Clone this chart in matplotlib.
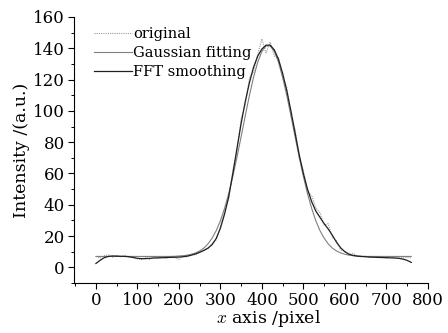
import numpy as np
import matplotlib
matplotlib.use("Agg")
from matplotlib import pyplot as plt
from matplotlib.ticker import MultipleLocator

plt.rcParams['font.family'] = ['DejaVu Serif']
plt.rcParams['mathtext.fontset'] = 'cm'

# pixel positions (every 10 px)
pixel = list(range(0, 770, 10))

original = [7, 6, 7.5, 8, 6.5, 7.5, 6.8, 7.8, 6.5, 7, 5.5, 5, 6.5, 5.2, 6.4, 5.8,
            6.6, 5.9, 7, 6.2, 5.2, 7.4, 6.6, 8.5, 8, 10, 11, 12, 15.5, 17.5, 26, 36,
            44, 62, 74, 95, 104, 121, 125, 136, 146, 137, 144, 135, 134, 121, 115,
            97, 88, 70, 62, 48, 46, 38, 35, 27, 28, 19, 17, 11, 10.5, 8, 9, 7, 6.8,
            7.2, 6.3, 7, 6.2, 6.8, 6, 6.6, 6.2, 6.8, 6, 6.5, 6]

gaussian = [7, 7, 7, 7, 7, 7, 7, 7, 7, 7, 7, 7, 7, 7, 7, 7,
            7, 7, 7, 7.1, 7.3, 7.5, 7.8, 8.4, 9.2, 10.5, 12.3, 15, 18.7, 23.5, 29.8, 37.7,
            47.1, 58.1, 70.4, 83.5, 96.9, 109.9, 121.5, 131.1, 138, 141.5, 141.5, 138, 131.1, 121.5, 109.9,
            96.9, 83.5, 70.4, 58.1, 47.1, 37.7, 29.8, 23.5, 18.7, 15, 12.3, 10.5, 9.2, 8.4, 7.8, 7.5, 7.3, 7.1,
            7, 7, 7, 7, 7, 7, 7, 7, 7, 7, 7, 7]

fft_smooth = [2.5, 4.5, 6.2, 7, 7.3, 7.2, 7.1, 7, 6.8, 6.3, 5.8, 5.6, 5.6, 5.8, 6, 6.1,
              6.2, 6.3, 6.4, 6.5, 6.6, 6.8, 7.2, 7.8, 8.6, 9.6, 10.8, 12.3, 14.5, 18.5, 25, 34,
              45, 60, 76, 92, 106, 118, 128, 135, 139.5, 142, 142, 139, 133, 124, 113,
              100, 86, 72, 60, 50, 42, 36, 32, 28, 24.5, 20.5, 16, 12.5, 10, 8.5, 7.6, 7.2, 7,
              6.8, 6.6, 6.5, 6.4, 6.3, 6.2, 6.1, 6, 5.8, 5.3, 4.5, 3.2]

fig = plt.figure(figsize=(4.48, 3.33), dpi=100)
ax = fig.add_axes([0.165, 0.150, 0.79, 0.799])

ax.plot(pixel, original, color="#9a9a9a", linestyle=(0, (1, 1)), linewidth=0.8,
        label="original")
ax.plot(pixel, gaussian, color="#808080", linewidth=0.8, label="Gaussian fitting")
ax.plot(pixel, fft_smooth, color="#202020", linewidth=0.9, label="FFT smoothing")

ax.set_xlim(-53, 800)
ax.set_ylim(-10, 160)
ax.xaxis.set_major_locator(MultipleLocator(100))
ax.xaxis.set_minor_locator(MultipleLocator(50))
ax.yaxis.set_major_locator(MultipleLocator(20))
ax.yaxis.set_minor_locator(MultipleLocator(10))

for s in ["top", "right"]:
    ax.spines[s].set_visible(False)
ax.tick_params(which="major", direction="out", length=4, width=0.8, labelsize=12, pad=2.5)
ax.tick_params(which="minor", direction="out", length=2.5, width=0.7)

ax.set_xlabel("$x$ axis /pixel", fontsize=12.5)
ax.set_ylabel("Intensity /(a.u.)", fontsize=12.5, labelpad=2)
ax.xaxis.set_label_coords(0.55, -0.095)

ax.legend(loc="upper left", bbox_to_anchor=(0.035, 0.99), frameon=False,
          fontsize=10.5, handlelength=2.6, handletextpad=0.1, borderpad=0,
          labelspacing=0.35)

plt.savefig("out.png", dpi=100)
